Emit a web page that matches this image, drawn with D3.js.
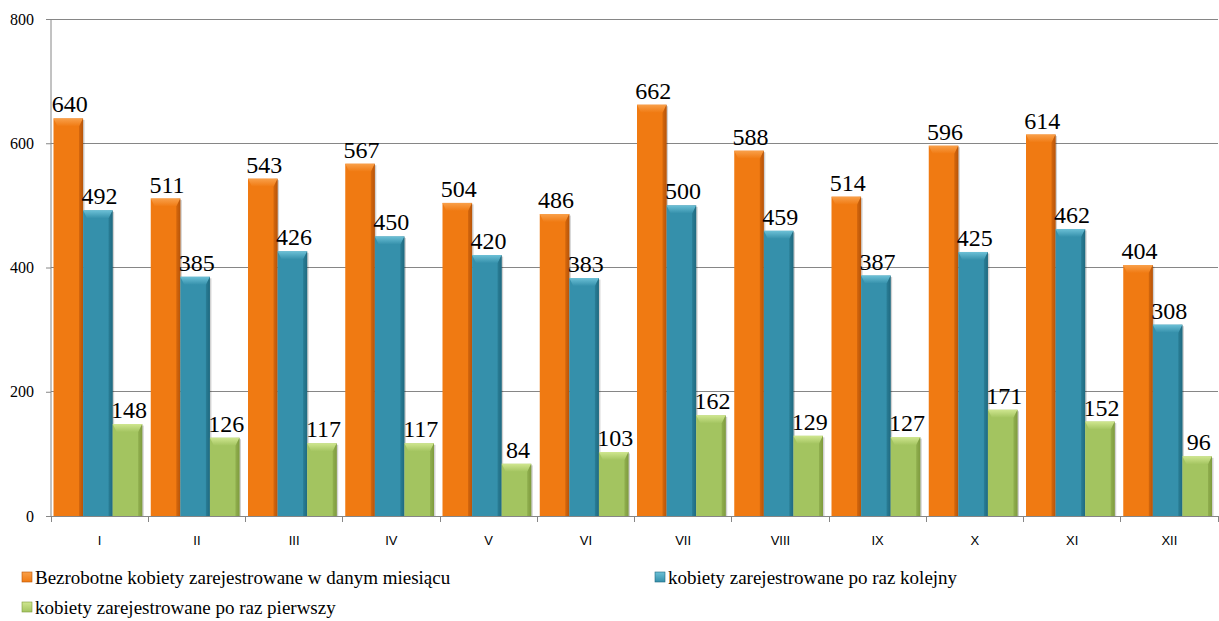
<!DOCTYPE html>
<html><head><meta charset="utf-8">
<script src="https://cdn.jsdelivr.net/npm/d3@7"></script>
</head><body style="margin:0">
<svg id="c" width="1219" height="621"></svg>
<script>
const categories = ["I","II","III","IV","V","VI","VII","VIII","IX","X","XI","XII"];
const seriesNames = ["Bezrobotne kobiety zarejestrowane w danym miesiącu","kobiety zarejestrowane po raz kolejny","kobiety zarejestrowane po raz pierwszy"];
const total = [640,511,543,567,504,486,662,588,514,596,614,404];
const repeat = [492,385,426,450,420,383,500,459,387,425,462,308];
const first = [148,126,117,117,84,103,162,129,127,171,152,96];
const yTicks = [0,200,400,600,800];
const colors = [["#b85508","#f07a12","#f9a04a"],["#1f6a80","#3590ab","#6cc0d6"],["#7f9b3e","#a3c460","#cfe68f"]];

const SERIF = "Liberation Serif";
const SANS = "Liberation Sans";
const series = [total, repeat, first];
const svg = d3.select("#c");
const L = 51, R = 1218, T = 19, B = 516;
const x = d3.scaleBand().domain(categories).range([L, R]).paddingInner(0).paddingOuter(0);
const y = d3.scaleLinear().domain([0, 800]).range([B, T]);
const sub = d3.scaleBand().domain([0,1,2]).range([2.5, x.bandwidth() - 6]);

const defs = svg.append("defs");
colors.forEach((c, i) => {
  const g = defs.append("linearGradient").attr("id", "g" + i).attr("x1", 0).attr("x2", 1).attr("y1", 0).attr("y2", 0);
  g.append("stop").attr("offset", "0%").attr("stop-color", c[1]);
  g.append("stop").attr("offset", "85%").attr("stop-color", c[1]);
  g.append("stop").attr("offset", "100%").attr("stop-color", c[0]);
  const t = defs.append("linearGradient").attr("id", "t" + i).attr("x1", 0).attr("x2", 0).attr("y1", 0).attr("y2", 1);
  t.append("stop").attr("offset", "0%").attr("stop-color", c[2]);
  t.append("stop").attr("offset", "100%").attr("stop-color", c[1]);
});

// gridlines
svg.append("g").selectAll("line").data(yTicks.filter(d => d > 0)).join("line")
  .attr("x1", L).attr("x2", R).attr("y1", d => y(d)).attr("y2", d => y(d))
  .attr("stroke", "#868686").attr("stroke-width", 1).attr("shape-rendering", "crispEdges");

// y axis
const ya = svg.append("g").attr("transform", `translate(${L},0)`)
  .call(d3.axisLeft(y).tickValues(yTicks).tickSize(5).tickPadding(12));
ya.attr("font-family", SERIF).attr("font-size", 16);
ya.select(".domain").attr("stroke", "#868686").attr("d", `M0,${T}V${B}`);
ya.selectAll(".tick line").attr("stroke", "#868686");
ya.selectAll("text").attr("fill", "#000");

// bars
series.forEach((s, i) => {
  const g = svg.append("g").attr("font-family", SERIF).attr("font-size", 24);
  const bw = sub.bandwidth();
  const bars = g.selectAll("g").data(s).join("g")
    .attr("transform", (d, j) => `translate(${x(categories[j]) + sub(i)},0)`);
  bars.append("rect").attr("x", 1.5).attr("y", d => y(d) + 1.5).attr("width", bw).attr("height", d => B - y(d) - 1.5)
    .attr("fill", "#000").attr("opacity", 0.18);
  bars.append("rect").attr("x", 0).attr("y", d => y(d)).attr("width", bw).attr("height", d => B - y(d))
    .attr("fill", `url(#g${i})`);
  bars.append("path").attr("d", d => {
    const t = y(d), h = 8;
    return `M0,${t}L${bw},${t}L${bw - 4},${t + h}L4,${t + h}Z`;
  }).attr("fill", `url(#t${i})`);
  bars.append("path").attr("d", d => {
    const t = y(d);
    return `M${bw},${t}L${bw},${B}L${bw - 4},${B}L${bw - 4},${t + 8}Z`;
  }).attr("fill", colors[i][0]).attr("opacity", 0.45);
  bars.append("text").attr("x", bw / 2 + 1.5).attr("y", d => y(d) - 6)
    .attr("text-anchor", "middle").attr("fill", "#000").text(d => d);
});

// x axis
const xa = svg.append("g").attr("transform", `translate(0,${B})`)
  .call(d3.axisBottom(x).tickSize(0).tickPadding(20));
xa.attr("font-family", SANS).attr("font-size", 13);
xa.select(".domain").attr("stroke", "#868686").attr("d", `M${L},0.5H${R}`);
xa.selectAll("text").attr("fill", "#000");
xa.append("g").selectAll("line").data(d3.range(categories.length + 1)).join("line")
  .attr("x1", d => L + d * x.step()).attr("x2", d => L + d * x.step()).attr("y1", 0).attr("y2", 6)
  .attr("stroke", "#868686").attr("shape-rendering", "crispEdges");

// legend
const legendPos = [[22, 578], [655, 578], [22, 608]];
seriesNames.forEach((n, i) => {
  const g = svg.append("g").attr("transform", `translate(${legendPos[i][0]},${legendPos[i][1]})`)
    .attr("font-family", SERIF).attr("font-size", 19);
  g.append("rect").attr("x", 0).attr("y", -6).attr("width", 10).attr("height", 10).attr("fill", `url(#t${i})`).attr("stroke", colors[i][0]).attr("stroke-width", 0.6);
  g.append("text").attr("x", 13).attr("y", 6).attr("fill", "#000").text(n);
});
</script>
</body></html>
